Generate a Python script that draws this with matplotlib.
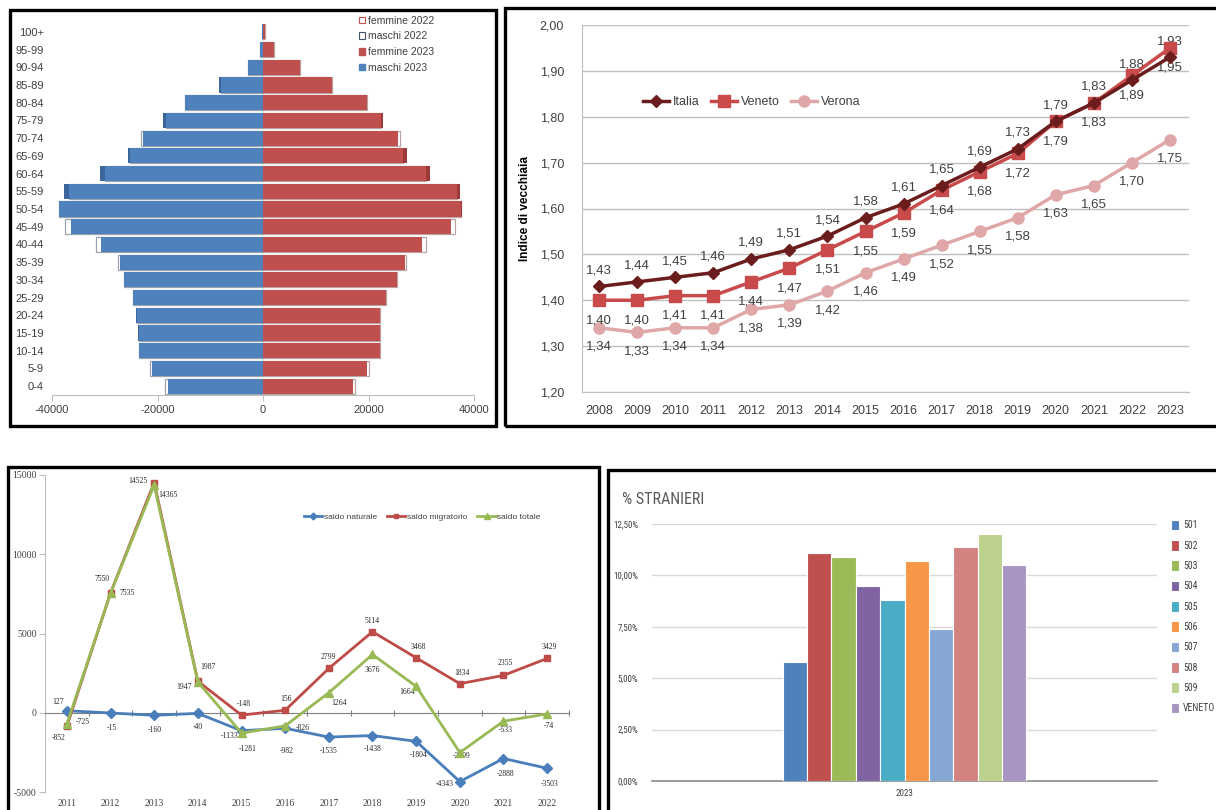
import numpy as np
import matplotlib
matplotlib.use("Agg")
import matplotlib.pyplot as plt
from matplotlib.patches import Rectangle, Patch
from matplotlib.lines import Line2D

plt.rcParams['font.family'] = ['Liberation Sans', 'DejaVu Sans']

# ---------------- DATA ----------------
# Panel 1: population pyramid (ages ascending)
age_groups = ['0-4', '5-9', '10-14', '15-19', '20-24', '25-29', '30-34', '35-39',
              '40-44', '45-49', '50-54', '55-59', '60-64', '65-69', '70-74',
              '75-79', '80-84', '85-89', '90-94', '95-99', '100+']
maschi_2023 = [18040, 21080, 23550, 23610, 23990, 24560, 26270, 27090, 30700, 36400,
               38740, 37660, 30830, 25570, 22790, 18930, 14870, 8290, 2850, 600, 250]
maschi_2022 = [18610, 21400, 23550, 23420, 23860, 24560, 26300, 27540, 31650, 37470,
               38600, 36840, 29880, 25190, 23100, 18480, 14750, 8040, 2850, 600, 250]
femmine_2023 = [17090, 19750, 22150, 22150, 22150, 23230, 25450, 26840, 30070, 35570,
                37660, 37350, 31650, 27220, 25510, 22790, 19810, 13100, 6950, 2050, 320]
femmine_2022 = [17470, 20070, 22150, 22150, 22150, 23230, 25320, 27090, 30950, 36460,
                37600, 36710, 30830, 26460, 25950, 22340, 19810, 13100, 6950, 2050, 320]

# Panel 2: indice di vecchiaia
years_iv = list(range(2008, 2024))
italia = [1.43, 1.44, 1.45, 1.46, 1.49, 1.51, 1.54, 1.58, 1.61, 1.65, 1.69, 1.73, 1.79, 1.83, 1.88, 1.93]
veneto = [1.40, 1.40, 1.41, 1.41, 1.44, 1.47, 1.51, 1.55, 1.59, 1.64, 1.68, 1.72, 1.79, 1.83, 1.89, 1.95]
verona = [1.34, 1.33, 1.34, 1.34, 1.38, 1.39, 1.42, 1.46, 1.49, 1.52, 1.55, 1.58, 1.63, 1.65, 1.70, 1.75]

# Panel 3: saldi
years_s = list(range(2011, 2023))
saldo_naturale = [127, -15, -160, -40, -1133, -982, -1535, -1438, -1804, -4343, -2888, -3503]
saldo_migratorio = [-852, 7550, 14525, 1987, -148, 156, 2799, 5114, 3468, 1834, 2355, 3429]
saldo_totale = [-725, 7535, 14365, 1947, -1281, -826, 1264, 3676, 1664, -2509, -533, -74]

# Panel 4: % stranieri
stranieri_labels = ['501', '502', '503', '504', '505', '506', '507', '508', '509', 'VENETO']
stranieri_values = [5.8, 11.1, 10.9, 9.5, 8.8, 10.7, 7.4, 11.4, 12.0, 10.5]

# ---------------- STYLE ----------------
W, H = 1216, 810
fig = plt.figure(figsize=(W / 100, H / 100), dpi=100)
fig.patch.set_facecolor('white')


def rect(l, t, r, b):
    return [l / W, 1 - b / H, (r - l) / W, (b - t) / H]


def frame(l, t, r, b):
    fig.add_artist(Rectangle((l / W, 1 - b / H), (r - l) / W, (b - t) / H,
                             transform=fig.transFigure, fill=False,
                             edgecolor='black', lw=2.4, zorder=10))


TXT = '#404040'

# ---------- Panel 1: pyramid ----------
frame(10, 10, 496, 426)
ax1 = fig.add_axes(rect(52, 23, 474, 395))
y = np.arange(len(age_groups))
m23 = np.array(maschi_2023); m22 = np.array(maschi_2022)
f23 = np.array(femmine_2023); f22 = np.array(femmine_2022)
bh = 0.86
blue, blue_d = '#4F81BD', '#3A669C'
red, red_d = '#C0504D', '#9E3A37'
ax1.barh(y, -m22, height=bh, color='white', edgecolor='#9AA3AE', lw=0.9, zorder=1)
ax1.barh(y, f22, height=bh, color='white', edgecolor='#B9A3A3', lw=0.9, zorder=1)
ax1.barh(y, -m23, height=bh, color=blue_d, lw=0, zorder=2)
ax1.barh(y, f23, height=bh, color=red_d, lw=0, zorder=2)
ax1.barh(y, -np.minimum(m22, m23), height=bh, color=blue, lw=0, zorder=3)
ax1.barh(y, np.minimum(f22, f23), height=bh, color=red, lw=0, zorder=3)
ax1.set_xlim(-40000, 40000)
ax1.set_ylim(-0.5, len(age_groups) - 0.5)
ax1.set_yticks(y)
ax1.set_yticklabels(age_groups, fontsize=8, color=TXT)
ax1.set_xticks([-40000, -20000, 0, 20000, 40000])
ax1.set_xticklabels(['-40000', '-20000', '0', '20000', '40000'], fontsize=8, color=TXT)
for s in ['top', 'right', 'left']:
    ax1.spines[s].set_visible(False)
ax1.spines['bottom'].set_color('#BFBFBF')
ax1.tick_params(axis='y', length=0, pad=6)
ax1.tick_params(axis='x', length=4, color='#BFBFBF', pad=3)
h1 = [Patch(facecolor='white', edgecolor=red, lw=0.8),
      Patch(facecolor='white', edgecolor='#44546A', lw=0.8),
      Patch(facecolor=red, edgecolor=red),
      Patch(facecolor=blue, edgecolor=blue)]
ax1.legend(h1, ['femmine 2022', 'maschi 2022', 'femmine 2023', 'maschi 2023'],
           loc='upper left', bbox_to_anchor=(0.705, 1.045), frameon=False,
           fontsize=7.5, handlelength=0.6, handleheight=0.6, handletextpad=0.25,
           labelspacing=0.55, labelcolor=TXT)

# ---------- Panel 2: indice di vecchiaia ----------
frame(505, 8, 1230, 426)
ax2 = fig.add_axes(rect(582, 25, 1189, 392))
x2 = np.arange(len(years_iv))
c_it, c_ve, c_vr = '#6B1C1C', '#C84A4A', '#DFA7A7'
ax2.plot(x2, verona, color=c_vr, lw=2.5, marker='o', ms=8, zorder=3, label='Verona')
ax2.plot(x2, veneto, color=c_ve, lw=2.5, marker='s', ms=8, zorder=4, label='Veneto')
ax2.plot(x2, italia, color=c_it, lw=2.5, marker='D', ms=6, zorder=5, label='Italia')
for xi, v in zip(x2, italia):
    ax2.annotate(f'{v:.2f}'.replace('.', ','), (xi, v), xytext=(0, 16),
                 textcoords='offset pixels', ha='center', va='center', fontsize=9.5, color=TXT)
for xi, v in zip(x2, veneto):
    ax2.annotate(f'{v:.2f}'.replace('.', ','), (xi, v), xytext=(0, -20),
                 textcoords='offset pixels', ha='center', va='center', fontsize=9.5, color=TXT)
for xi, v in zip(x2, verona):
    ax2.annotate(f'{v:.2f}'.replace('.', ','), (xi, v), xytext=(0, -19),
                 textcoords='offset pixels', ha='center', va='center', fontsize=9.5, color=TXT)
ax2.set_xlim(-0.45, len(years_iv) - 0.5)
ax2.set_ylim(1.2, 2.0)
yt2 = np.arange(1.2, 2.001, 0.1)
ax2.set_yticks(yt2)
ax2.set_yticklabels([f'{v:.2f}'.replace('.', ',') for v in yt2], fontsize=9, color=TXT)
ax2.set_xticks(x2)
ax2.set_xticklabels([str(v) for v in years_iv], fontsize=9, color=TXT)
ax2.grid(axis='y', color='#BFBFBF', lw=1)
ax2.set_axisbelow(True)
for s in ['top', 'right']:
    ax2.spines[s].set_visible(False)
for s in ['left', 'bottom']:
    ax2.spines[s].set_color('#BFBFBF')
ax2.tick_params(length=0)
ax2.tick_params(axis='y', pad=13)
ax2.tick_params(axis='x', pad=9)
ax2.set_ylabel('Indice di vecchiaia', fontsize=8.5, fontweight='bold', color='black', labelpad=6)
lh = [Line2D([], [], color=c_it, lw=2.5, marker='D', ms=6),
      Line2D([], [], color=c_ve, lw=2.5, marker='s', ms=8),
      Line2D([], [], color=c_vr, lw=2.5, marker='o', ms=8)]
ax2.legend(lh, ['Italia', 'Veneto', 'Verona'], loc='center', bbox_to_anchor=(0.28, 0.79),
           ncol=3, frameon=False, fontsize=9, handlelength=2.1, handletextpad=0.3,
           columnspacing=0.9, labelcolor=TXT)

# ---------- Panel 3: saldi ----------
frame(8, 467, 599, 830)
ax3 = fig.add_axes(rect(45, 475, 569, 792))
x3 = np.arange(len(years_s))
c_n, c_m, c_t = '#4A7EBB', '#BE4B48', '#98B954'
ax3.plot(x3, saldo_naturale, color=c_n, lw=2, marker='D', ms=5, zorder=3, label='saldo naturale')
ax3.plot(x3, saldo_migratorio, color=c_m, lw=2, marker='s', ms=5, zorder=4, label='saldo migratorio')
ax3.plot(x3, saldo_totale, color=c_t, lw=2, marker='^', ms=6, zorder=5, label='saldo totale')
off_n = [(-9, 9), (1, -15), (1, -15), (0, -14), (-12, -5), (2, -23), (0, -14), (0, -13),
         (2, -14), (-15, -2), (2, -15), (2, -16)]
off_m = [(-8, -12), (-8, 14), (-16, 2), (10, 14), (2, 11), (1, 11), (0, 11), (0, 11),
         (2, 11), (2, 11), (2, 12), (2, 11)]
off_t = [(16, 2), (17, 0), (14, -10), (-14, -5), (6, -16), (18, -2), (10, -10), (0, -16),
         (-9, -6), (2, -3), (2, -9), (2, -12)]
SERIF = ['Liberation Serif', 'DejaVu Serif']
for vals, offs in [(saldo_naturale, off_n), (saldo_migratorio, off_m), (saldo_totale, off_t)]:
    for xi, v, o in zip(x3, vals, offs):
        ax3.annotate(str(v), (xi, v), xytext=o, textcoords='offset pixels',
                     ha='center', va='center', fontsize=5.5, color='#262626', family=SERIF)
ax3.set_xlim(-0.5, len(years_s) - 0.5)
ax3.set_ylim(-5000, 15000)
ax3.set_yticks([-5000, 0, 5000, 10000, 15000])
ax3.set_yticklabels(['-5000', '0', '5000', '10000', '15000'], fontsize=7, color=TXT, family=SERIF)
for s in ['top', 'right']:
    ax3.spines[s].set_visible(False)
ax3.spines['left'].set_color('#BFBFBF')
ax3.spines['bottom'].set_position(('data', 0))
ax3.spines['bottom'].set_color('#808080')
ax3.set_xticks(np.arange(-0.5, len(years_s), 1.0))
ax3.set_xticklabels([])
ax3.tick_params(axis='x', direction='inout', length=5, color='#808080')
ax3.tick_params(axis='y', length=4, color='#BFBFBF', pad=2)
sec = ax3.secondary_xaxis('bottom')
sec.set_xticks(x3)
sec.set_xticklabels([str(v) for v in years_s], fontsize=7, color=TXT, family=SERIF)
sec.tick_params(length=0, pad=5)
sec.spines['bottom'].set_visible(False)
ax3.legend(loc='center', bbox_to_anchor=(0.72, 0.867), ncol=3, frameon=False, fontsize=6,
           handlelength=2.2, handletextpad=0.2, columnspacing=1.2, labelcolor=TXT,
           markerscale=0.7)

# ---------- Panel 4: % stranieri ----------
frame(608, 470, 1230, 830)
ax4 = fig.add_axes(rect(652, 524, 1157, 781))
cols4 = ['#4F81BD', '#C0504D', '#9BBB59', '#8064A2', '#4BACC6', '#F79646',
         '#86A7D3', '#D4827F', '#BDD18E', '#A895C2']
n4 = len(stranieri_values)
bw = 0.1
x4 = (np.arange(n4) - (n4 - 1) / 2) * bw
bars = ax4.bar(x4, stranieri_values, width=bw, color=cols4, edgecolor='white', lw=0.8, zorder=3)
ax4.set_xlim(-1.035, 1.035)
ax4.set_ylim(0, 12.5)
yt4 = [0, 2.5, 5, 7.5, 10, 12.5]
NARROW = ['Roboto Condensed', 'Liberation Sans Narrow', 'Roboto']
ax4.set_yticks(yt4)
ax4.set_yticklabels([f'{v:.2f}'.replace('.', ',') + '%' for v in yt4], fontsize=6.5, color=TXT,
                    family=NARROW)
ax4.set_xticks([0])
ax4.set_xticklabels(['2023'], fontsize=6.5, color=TXT, family=NARROW)
ax4.grid(axis='y', color='#D9D9D9', lw=1)
ax4.set_axisbelow(True)
for s in ['top', 'right', 'left']:
    ax4.spines[s].set_visible(False)
ax4.spines['bottom'].set_color('#8C8C8C')
ax4.spines['bottom'].set_linewidth(1.2)
ax4.tick_params(length=0)
ax4.tick_params(axis='y', pad=10)
ax4.tick_params(axis='x', pad=6)
fig.text(622 / W, 1 - 499 / H, '% STRANIERI', fontsize=11.5, color='#595959', va='center',
         ha='left', family=NARROW)
ax4.legend(bars, stranieri_labels, loc='upper left', bbox_to_anchor=(1162 / W, 1 - 511 / H),
           bbox_transform=fig.transFigure, frameon=False, handlelength=0.85,
           handleheight=1.3, handletextpad=0.4, labelspacing=1.0, labelcolor=TXT,
           prop={'family': NARROW, 'size': 7})

fig.savefig('out.png', dpi=100)
